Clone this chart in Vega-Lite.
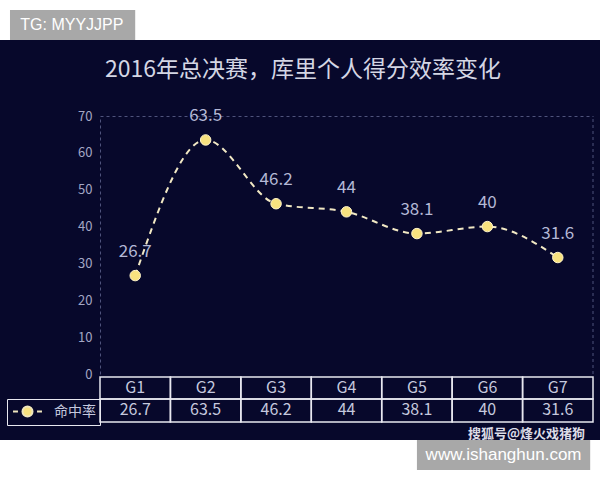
{
  "$schema": "https://vega.github.io/schema/vega-lite/v6.json",
  "description": "2016 Finals, Curry scoring efficiency by game.",
  "width": 600,
  "height": 400,
  "autosize": {"type": "none"},
  "padding": {"top": 40, "bottom": 40, "left": 0, "right": 0},
  "background": "#ffffff",
  "title": {
    "text": "2016年总决赛，库里个人得分效率变化",
    "anchor": "middle",
    "frame": "group",
    "offset": -45,
    "dy": 27,
    "dx": 3,
    "font": "Noto Sans CJK SC",
    "fontSize": 23,
    "fontWeight": "normal",
    "color": "#d4d6e4"
  },
  "data": {
    "values": [
      {"game": "G1", "rate": 26.7, "series": "命中率"},
      {"game": "G2", "rate": 63.5, "series": "命中率"},
      {"game": "G3", "rate": 46.2, "series": "命中率"},
      {"game": "G4", "rate": 44, "series": "命中率"},
      {"game": "G5", "rate": 38.1, "series": "命中率"},
      {"game": "G6", "rate": 40, "series": "命中率"},
      {"game": "G7", "rate": 31.6, "series": "命中率"}
    ]
  },
  "encoding": {
    "x": {
      "field": "game",
      "type": "ordinal",
      "scale": {
        "type": "band",
        "domain": ["G1", "G2", "G3", "G4", "G5", "G6", "G7"],
        "range": [100, 593],
        "paddingInner": 0,
        "paddingOuter": 0
      },
      "axis": {
        "orient": "top",
        "offset": -76,
        "labels": false,
        "ticks": false,
        "grid": false,
        "title": null,
        "domainDash": [3, 3],
        "domainColor": "#4f537c"
      }
    }
  },
  "layer": [
    {
      "mark": {
        "type": "line",
        "interpolate": "monotone",
        "stroke": "#f1e8c4",
        "strokeWidth": 2,
        "strokeDash": [6, 5]
      },
      "encoding": {
        "y": {
          "field": "rate",
          "type": "quantitative",
          "scale": {"domain": [0, 70], "range": [334, 76], "nice": false},
          "axis": {
            "orient": "left",
            "offset": -100,
            "values": [0, 10, 20, 30, 40, 50, 60, 70],
            "ticks": false,
            "grid": false,
            "title": null,
            "domainDash": [3, 3],
            "domainColor": "#4f537c",
            "labelColor": "#a3a6c4",
            "labelFont": "Noto Sans CJK SC",
            "labelFontSize": 13,
            "labelPadding": 8
          }
        }
      }
    },
    {
      "data": {"values": [{}]},
      "mark": {"type": "rule", "strokeDash": [3, 3], "color": "#4f537c"},
      "encoding": {
        "x": {"datum": "G7", "type": "ordinal", "bandPosition": 1},
        "y": {"datum": 0},
        "y2": {"datum": 70}
      }
    },
    {
      "mark": {
        "type": "point",
        "filled": true,
        "size": 110,
        "opacity": 1,
        "stroke": "#fff4cc",
        "strokeWidth": 1
      },
      "encoding": {
        "y": {"field": "rate", "type": "quantitative"},
        "fill": {
          "field": "series",
          "type": "nominal",
          "scale": {"range": ["#f8e27f"]},
          "legend": {
            "orient": "none",
            "legendX": 7,
            "legendY": 359,
            "title": null,
            "padding": 4,
            "strokeColor": "#e8e8f0",
            "symbolType": "M-1.93,0L-1.27,0M1.27,0L1.93,0M-0.67,0A0.67,0.67,0,1,0,0.67,0A0.67,0.67,0,1,0,-0.67,0Z",
            "symbolSize": 225,
            "symbolOffset": 8,
            "symbolStrokeWidth": 2,
            "symbolStrokeColor": "#efe6bf",
            "labelOffset": 18,
            "labelFont": "Noto Sans CJK SC",
            "labelFontSize": 14,
            "labelColor": "#c5c8de",
            "encode": {
              "symbols": {
                "update": {
                  "stroke": {"value": "#efe6bf"},
                  "strokeWidth": {"value": 2},
                  "fill": {"value": "#f8e27f"}
                }
              }
            }
          }
        }
      }
    },
    {
      "mark": {
        "type": "text",
        "dy": -24,
        "font": "Noto Sans CJK SC",
        "fontSize": 17,
        "color": "#b4b8d6"
      },
      "encoding": {
        "y": {"field": "rate", "type": "quantitative"},
        "text": {"field": "rate", "type": "quantitative"}
      }
    },
    {
      "mark": {"type": "rect", "fillOpacity": 0, "stroke": "#e8e8f0", "strokeWidth": 1.5},
      "encoding": {"y": {"datum": -0.8}, "y2": {"datum": -6.8}}
    },
    {
      "mark": {"type": "rect", "fillOpacity": 0, "stroke": "#e8e8f0", "strokeWidth": 1.5},
      "encoding": {"y": {"datum": -6.8}, "y2": {"datum": -13.0}}
    },
    {
      "mark": {"type": "text", "font": "Noto Sans CJK SC", "fontSize": 16, "color": "#c5c8de"},
      "encoding": {
        "y": {"datum": -3.8},
        "text": {"field": "game", "type": "ordinal"}
      }
    },
    {
      "mark": {"type": "text", "font": "Noto Sans CJK SC", "fontSize": 16, "color": "#c5c8de"},
      "encoding": {
        "y": {"datum": -9.9},
        "text": {"field": "rate", "type": "quantitative"}
      }
    },
    {
      "data": {"values": [{}]},
      "mark": {
        "type": "text",
        "text": "搜狐号@烽火戏猪狗",
        "align": "right",
        "dx": -8,
        "font": "Noto Sans CJK SC",
        "fontSize": 13,
        "fontWeight": "bold",
        "color": "#dcdce6"
      },
      "encoding": {
        "x": {"datum": "G7", "type": "ordinal", "bandPosition": 1},
        "y": {"datum": -16.3}
      }
    },
    {
      "data": {"values": [{}]},
      "mark": {"type": "rect", "fill": "#a8a8a8"},
      "encoding": {
        "x": {"datum": "G5", "type": "ordinal", "bandPosition": 0.5},
        "x2": {"datum": "G7", "bandPosition": 0.96},
        "y": {"datum": -17.9},
        "y2": {"datum": -26.05}
      }
    },
    {
      "data": {"values": [{}]},
      "mark": {
        "type": "text",
        "text": "www.ishanghun.com",
        "font": "Liberation Sans",
        "fontSize": 17,
        "color": "#ffffff"
      },
      "encoding": {
        "x": {"datum": "G6", "type": "ordinal", "bandPosition": 0.73},
        "y": {"datum": -22.0}
      }
    },
    {
      "data": {"values": [{}]},
      "mark": {"type": "rect", "fill": "#a8a8a8"},
      "encoding": {
        "x": {"datum": "G1", "type": "ordinal", "bandPosition": -1.278},
        "x2": {"datum": "G1", "bandPosition": 0.5},
        "y": {"datum": 98.76},
        "y2": {"datum": 90.62}
      }
    },
    {
      "data": {"values": [{}]},
      "mark": {
        "type": "text",
        "text": "TG: MYYJJPP",
        "font": "Liberation Sans",
        "fontSize": 16,
        "color": "#ffffff"
      },
      "encoding": {
        "x": {"datum": "G1", "type": "ordinal", "bandPosition": -0.4},
        "y": {"datum": 94.7}
      }
    }
  ],
  "view": {"fill": "#07082b", "stroke": null}
}
